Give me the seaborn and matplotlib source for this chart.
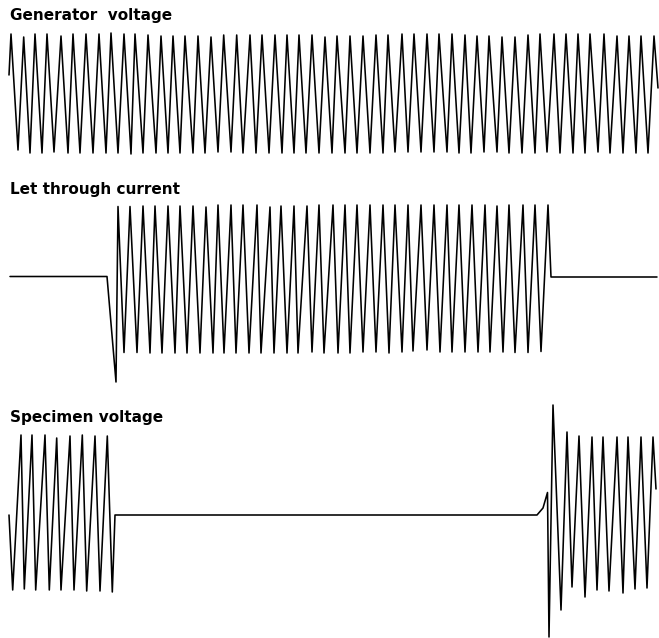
import numpy as np
import pandas as pd
import matplotlib
matplotlib.use("Agg")
import matplotlib.pyplot as plt
import seaborn as sns

# ---------------- data (time in arbitrary units, amplitude relative to baseline) -------------
titles = ["Generator  voltage", "Let through current", "Specimen voltage"]

# Generator voltage
gen_start_t, gen_start_v = [9], [18.5]
gen_top_t = [11, 23.7, 35, 47, 61, 73, 86, 99, 111, 124, 135, 148, 161, 173, 185, 198, 211,
             223.7, 236.7, 250, 262, 275, 287, 299, 312, 325, 337,
             350, 363, 376, 388, 402, 414, 427, 439,
             452, 465, 477, 489, 502, 515, 528, 540, 554, 566, 578, 590, 604, 617, 629, 641, 654]
gen_top_v = [59.5, 56.5, 59.5, 59.5, 57.5, 59.5, 59.5, 59.5, 60.5, 59.5, 59.5, 58.5, 57.5, 57.5, 57.5, 57.5, 56.5,
             58.5, 58.5, 58.5, 58.5, 58.5, 58.5, 58.5, 58.5, 56.5, 57.5,
             57.5, 57.5, 58.5, 58.5, 59.5, 59.5, 59.5, 59.5,
             59.5, 58.5, 57.5, 57.5, 56.5, 56.5, 58.5, 59.5, 59.5, 59.5, 59.5, 59.5, 59.5, 57.5, 57.5, 57.5, 57.5]
gen_bot_t = [18, 30, 42, 54, 68, 80, 93, 106, 118, 131, 143, 156, 168, 180, 193, 205,
             218, 231, 243, 256, 269, 282, 294, 306, 319, 332,
             345, 357, 370, 383, 395, 408, 421, 434,
             447, 459, 471, 484, 497, 509, 522, 535, 547, 560, 573, 585, 598, 610, 623, 636, 648]
gen_bot_v = [-56.5, -59.5, -59.5, -58.5, -59.5, -59.5, -59.5, -59.5, -59.5, -60.5, -59.5, -59.5, -59.5, -59.5, -59.5, -59.5,
             -58.5, -58.5, -59.5, -59.5, -59.5, -59.5, -59.5, -59.5, -59.5, -59.5,
             -59.5, -59.5, -59.5, -59.5, -58.5, -58.5, -58.5, -58.5,
             -58.5, -59.5, -59.5, -58.5, -58.5, -59.5, -59.5, -59.5, -58.5, -59.5, -59.5, -59.5, -58.5, -59.5, -59.5, -59.5, -59.5]
gen_end_t, gen_end_v = [658], [5.5]

# Let through current
cur_lead_t, cur_lead_v = [10, 107, 116], [0, 0, -105.5]
cur_top_t = [118, 130, 143, 155, 168, 180, 193, 206,
             218, 231, 243, 257, 270, 281, 294, 307, 319, 333, 345,
             357, 370, 383, 395, 408, 421, 434, 447, 459, 472, 485, 497, 509,
             523, 535, 548]
cur_top_v = [70, 70, 70.5, 70.5, 70.5, 70.5, 70.5, 69.5,
             71.5, 71.5, 71.5, 71.5, 69.5, 70.5, 70.5, 70.5, 71.5, 71.5, 71.5,
             71.5, 71.5, 71.5, 71.5, 71.5, 71.5, 71.5, 71.5, 71.5, 71.5, 71.5, 70.5, 71.5,
             71.5, 71.5, 71.5]
cur_bot_t = [124, 137, 150, 162, 175, 187, 200,
             213, 224, 236, 249, 261, 274, 287, 298, 312, 324, 338, 350,
             363, 376, 389, 402, 413, 427, 440, 452, 465, 478, 490, 503,
             515, 528, 541]
cur_bot_v = [-76, -76, -76.5, -76.5, -76.5, -76.5, -76.5,
             -76.5, -76.5, -76.5, -76.5, -76.5, -76.5, -76.5, -76.5, -75.5, -76.5, -76.5, -76.5,
             -75.5, -75.5, -76.5, -75.5, -74.5, -73.5, -75.5, -75.5, -75.5, -75.5, -75.5, -75.5,
             -76, -76, -75]
cur_tail_t, cur_tail_v = [551, 657], [-0.5, -0.5]

# Specimen voltage
spec_t = [9, 12.7, 21, 24.3, 32, 35.7, 45, 49.3, 56.7, 61, 70, 74, 82.3, 86.7, 95, 100, 107.3, 112.3,
          115, 537, 543, 547.5,
          549, 553, 561, 567, 572, 579, 585, 592, 597, 603, 609, 617, 623, 628, 635, 641, 647, 653, 656]
spec_v = [0, -75, 80, -74, 80, -75, 80, -75, 77, -75, 79, -75, 80, -76, 79, -76, 79, -77,
          0, 0, 7, 22.5,
          -122, 110, -95, 83, -72, 79, -82, 78, -75, 78, -76, 78, -78, 78, -74, 78, -73, 78, 26]

# ---------------- assemble tables ----------------
def interleave(a, b):
    out = []
    for i in range(len(a)):
        out.append(a[i])
        if i < len(b):
            out.append(b[i])
    return out

gen_df = pd.DataFrame({
    "t": gen_start_t + interleave(gen_top_t, gen_bot_t) + gen_end_t,
    "v": gen_start_v + interleave(gen_top_v, gen_bot_v) + gen_end_v,
})
cur_df = pd.DataFrame({
    "t": cur_lead_t + interleave(cur_top_t, cur_bot_t) + cur_tail_t,
    "v": cur_lead_v + interleave(cur_top_v, cur_bot_v) + cur_tail_v,
})
spec_df = pd.DataFrame({"t": spec_t, "v": spec_v})

# ---------------- figure ----------------
sns.set_style("white")
plt.rcParams["font.family"] = ["DejaVu Sans"]

W, H = 659, 638
fig = plt.figure(figsize=(W / 100, H / 100), dpi=100)

# (top px, bottom px, baseline px, title baseline px)
panels = [
    (gen_df, 25, 160, 93.5, 20),
    (cur_df, 195, 390, 276.5, 194),
    (spec_df, 398, 638, 515, 422),
]

for (df, top_px, bot_px, base_px, title_px), title in zip(panels, titles):
    ax = fig.add_axes([0, 1 - bot_px / H, 1, (bot_px - top_px) / H])
    sns.lineplot(data=df, x="t", y="v", ax=ax, sort=False, estimator=None,
                 color="black", lw=1.15, clip_on=False)
    ax.set_xlim(0, W)
    ax.set_ylim(base_px - bot_px, base_px - top_px)
    ax.set_axis_off()
    fig.text(10 / W, 1 - title_px / H, title, fontsize=11, fontweight="bold",
             ha="left", va="baseline", color="black")

fig.savefig("out.png", dpi=100)
